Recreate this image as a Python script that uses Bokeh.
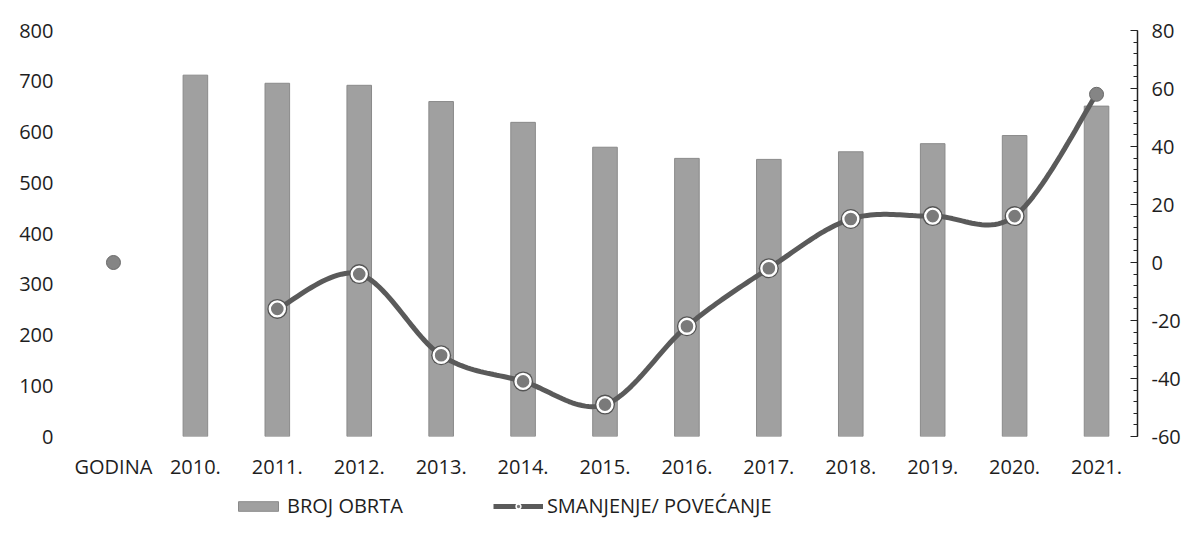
import numpy as np
from bokeh.plotting import figure
from bokeh.layouts import column
from bokeh.models import (Range1d, LinearAxis, FixedTicker, Legend, LegendItem,
                          ColumnDataSource)
from bokeh.embed import file_html
from bokeh.resources import INLINE

# ---- data ----
categories = ["GODINA", "2010.", "2011.", "2012.", "2013.", "2014.", "2015.",
              "2016.", "2017.", "2018.", "2019.", "2020.", "2021."]
bar_years = ["2010.", "2011.", "2012.", "2013.", "2014.", "2015.",
             "2016.", "2017.", "2018.", "2019.", "2020.", "2021."]
broj_obrta = [712, 696, 692, 660, 619, 570, 548, 546, 561, 577, 593, 651]
change_years = ["2011.", "2012.", "2013.", "2014.", "2015.", "2016.",
                "2017.", "2018.", "2019.", "2020.", "2021."]
smanjenje_povecanje = [-16, -4, -32, -41, -49, -22, -2, 15, 16, 16, 58]
stray_years = ["GODINA"]
stray_values = [0]

left_ticks = [0, 100, 200, 300, 400, 500, 600, 700, 800]
right_ticks = [-60, -40, -20, 0, 20, 40, 60, 80]

FONT = "Open Sans"
TXT = "#1e1e1e"
FS = "20px"
BAR_FILL = "#a0a0a0"
BAR_LINE = "#8a8a8a"
LINE_COL = "#5a5a5a"

idx = {c: i for i, c in enumerate(categories)}

p = figure(width=1183, height=490, output_backend="svg", toolbar_location=None,
           x_range=Range1d(-0.5, len(categories) - 0.5), y_range=Range1d(0, 800),
           min_border_left=72, min_border_right=45, min_border_top=30,
           min_border_bottom=54, outline_line_color=None)
p.extra_y_ranges = {"chg": Range1d(-60, 80)}
p.xgrid.visible = False
p.ygrid.visible = False

# bars
bar_src = ColumnDataSource(dict(x=[idx[c] for c in bar_years], top=broj_obrta))
p.vbar(x="x", top="top", width=0.30, source=bar_src,
       fill_color=BAR_FILL, line_color=BAR_LINE, line_width=1)

# smoothed line (Catmull-Rom through the data points, rendering only)
px = np.array([idx[c] for c in change_years], dtype=float)
py = np.array(smanjenje_povecanje, dtype=float)
sx, sy = [], []
n = len(px)
for i in range(n - 1):
    p0 = (px[i - 1], py[i - 1]) if i > 0 else (px[i], py[i])
    p1 = (px[i], py[i])
    p2 = (px[i + 1], py[i + 1])
    p3 = (px[i + 2], py[i + 2]) if i + 2 < n else (px[i + 1], py[i + 1])
    m1 = ((p2[0] - p0[0]) / 2, (p2[1] - p0[1]) / 2)
    m2 = ((p3[0] - p1[0]) / 2, (p3[1] - p1[1]) / 2)
    for t in np.linspace(0, 1, 25, endpoint=(i == n - 2)):
        h00 = 2 * t**3 - 3 * t**2 + 1
        h10 = t**3 - 2 * t**2 + t
        h01 = -2 * t**3 + 3 * t**2
        h11 = t**3 - t**2
        sx.append(float(h00 * p1[0] + h10 * m1[0] + h01 * p2[0] + h11 * m2[0]))
        sy.append(float(h00 * p1[1] + h10 * m1[1] + h01 * p2[1] + h11 * m2[1]))

p.line(sx, sy, y_range_name="chg", line_color=LINE_COL, line_width=5)

ring_src = ColumnDataSource(dict(x=list(px[:-1]), y=list(py[:-1])))
p.scatter("x", "y", source=ring_src, y_range_name="chg", size=20,
          fill_color="#555555", line_color=None)
p.scatter("x", "y", source=ring_src, y_range_name="chg", size=15,
          fill_color="#7a7a7a", line_color="white", line_width=2.4)

plain_src = ColumnDataSource(dict(
    x=[idx[c] for c in stray_years] + [float(px[-1])],
    y=stray_values + [float(py[-1])]))
p.scatter("x", "y", source=plain_src, y_range_name="chg", size=14,
          fill_color="#858585", line_color="#6a6a6a", line_width=1)

# axes
p.xaxis.ticker = FixedTicker(ticks=list(range(len(categories))))
p.xaxis.major_label_overrides = {i: c for i, c in enumerate(categories)}
p.xaxis.axis_line_color = None
p.xaxis.major_tick_line_color = None
p.xaxis.major_tick_out = 0
p.xaxis.major_tick_in = 0
p.xaxis.minor_tick_line_color = None
p.xaxis.major_label_standoff = 16
p.xaxis.major_label_text_font = FONT
p.xaxis.major_label_text_font_size = FS
p.xaxis.major_label_text_color = TXT

p.yaxis.ticker = FixedTicker(ticks=left_ticks)
p.yaxis.axis_line_color = None
p.yaxis.major_tick_line_color = None
p.yaxis.major_tick_out = 0
p.yaxis.major_tick_in = 0
p.yaxis.minor_tick_line_color = None
p.yaxis.major_label_standoff = 19
p.yaxis.major_label_text_font = FONT
p.yaxis.major_label_text_font_size = FS
p.yaxis.major_label_text_color = TXT

ra = LinearAxis(y_range_name="chg",
                ticker=FixedTicker(ticks=right_ticks,
                                   minor_ticks=list(range(-60, 81, 4))))
ra.axis_line_color = "#222222"
ra.axis_line_width = 1.5
ra.major_tick_in = 7
ra.major_tick_out = 0
ra.minor_tick_in = 4
ra.minor_tick_out = 0
ra.major_tick_line_color = "#222222"
ra.minor_tick_line_color = "#222222"
ra.major_label_standoff = 14
ra.major_label_overrides = {t: str(t) for t in right_ticks}
ra.major_label_text_font = FONT
ra.major_label_text_font_size = FS
ra.major_label_text_color = TXT
p.add_layout(ra, "right")

# legend strip (separate figure so the legend is not clipped by the plot frame)
lf = figure(width=1183, height=30, output_backend="svg", toolbar_location=None,
            x_range=Range1d(0, 1), y_range=Range1d(0, 1),
            min_border=0, outline_line_color=None)
lf.axis.visible = False
lf.grid.visible = False
nan = float("nan")
proxy = ColumnDataSource(dict(x=[nan], y=[nan], top=[nan]))  # legend swatches only
lb = lf.vbar(x="x", top="top", width=0.3, source=proxy,
             fill_color=BAR_FILL, line_color=BAR_LINE)
ll = lf.line("x", "y", source=proxy, line_color=LINE_COL, line_width=5)
lm = lf.scatter("x", "y", source=proxy, size=12, fill_color="#7a7a7a",
                line_color="white", line_width=1.5)
legend = Legend(items=[LegendItem(label="BROJ OBRTA", renderers=[lb]),
                       LegendItem(label="SMANJENJE/ POVEĆANJE", renderers=[ll, lm])],
                orientation="horizontal", location=(161, 1),
                glyph_width=50, glyph_height=12, label_standoff=4, spacing=90,
                padding=0, margin=0, border_line_color=None,
                background_fill_alpha=0,
                label_text_font=FONT, label_text_font_size=FS,
                label_text_color=TXT)
lf.add_layout(legend, "center")

layout = column(p, lf, spacing=0)
open("out.html", "w").write(file_html(layout, INLINE))
